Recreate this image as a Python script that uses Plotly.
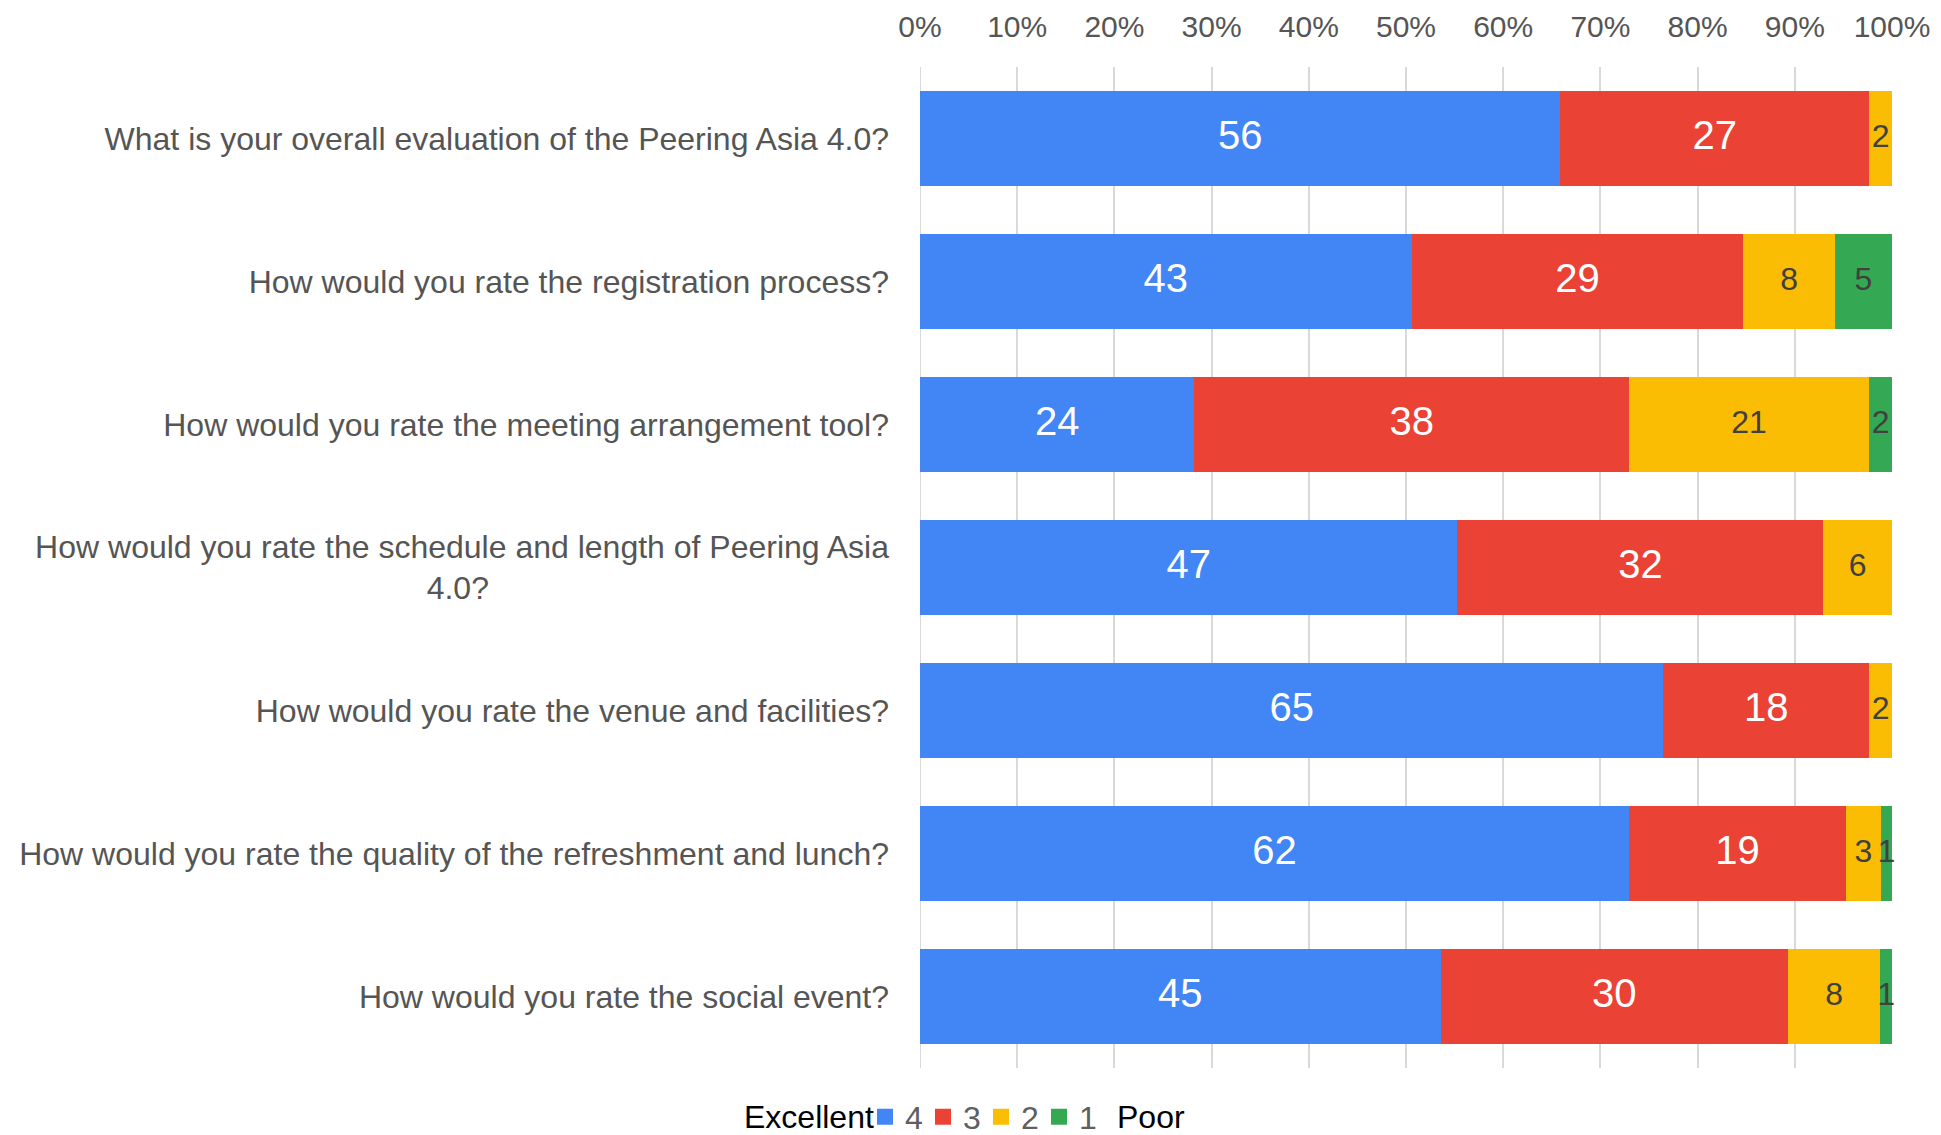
import plotly.graph_objects as go

questions = [
    "What is your overall evaluation of the Peering Asia 4.0?",
    "How would you rate the registration process?",
    "How would you rate the meeting arrangement tool?",
    "How would you rate the schedule and length of Peering Asia<br>4.0?" + "&nbsp;" * 45,
    "How would you rate the venue and facilities?",
    "How would you rate the quality of the refreshment and lunch?",
    "How would you rate the social event?",
]
series_names = ["4", "3", "2", "1"]
rating4 = [56, 43, 24, 47, 65, 62, 45]
rating3 = [27, 29, 38, 32, 18, 19, 30]
rating2 = [2, 8, 21, 6, 2, 3, 8]
rating1 = [0, 5, 2, 0, 0, 1, 1]
colors = ["#4285F4", "#EA4335", "#FBBC04", "#34A853"]
label_colors = ["white", "white", "#404040", "#404040"]
label_sizes = [40, 40, 32, 32]
tick_vals = [0, 10, 20, 30, 40, 50, 60, 70, 80, 90, 100]
tick_text = [f"{v}%" for v in tick_vals]

all_series = [rating4, rating3, rating2, rating1]
FONT = "Liberation Sans, Arial, sans-serif"

fig = go.Figure()
for name, vals, col in zip(series_names, all_series, colors):
    fig.add_trace(go.Bar(
        y=questions, x=vals, name=name, orientation="h",
        marker=dict(color=col, line=dict(width=0)),
        hoverinfo="x+y", showlegend=False,
    ))

# legend entries (square swatches)
for name, col in zip(series_names, colors):
    fig.add_trace(go.Scatter(
        x=[None], y=[None], mode="markers", name=name,
        marker=dict(symbol="square", size=17, color=col),
        showlegend=True,
    ))

# labels at segment midpoints (percent scale)
totals = [sum(s[i] for s in all_series) for i in range(len(questions))]
cum = [0.0] * len(questions)
for vals, lc, ls in zip(all_series, label_colors, label_sizes):
    xs, ys, ts = [], [], []
    for i, v in enumerate(vals):
        pct = 100.0 * v / totals[i]
        if v > 0:
            xs.append(cum[i] + pct / 2)
            ys.append(questions[i])
            ts.append(str(v))
        cum[i] += pct
    fig.add_trace(go.Scatter(
        x=xs, y=ys, text=ts, mode="text", showlegend=False, hoverinfo="skip",
        textfont=dict(color=lc, size=ls, family=FONT), cliponaxis=False,
    ))

fig.update_layout(
    barmode="stack", barnorm="percent", bargap=0.333,
    width=1941, height=1135,
    margin=dict(l=912, r=57, t=59, b=75, autoexpand=False),
    plot_bgcolor="white", paper_bgcolor="white",
    font=dict(family=FONT, size=32, color="#555555"),
    xaxis=dict(
        side="top", range=[0, 100], tickvals=tick_vals, ticktext=tick_text,
        showgrid=True, gridcolor="#d9d9d9", gridwidth=2, automargin=False,
        zeroline=False, showline=False, ticks="", ticklabelstandoff=23,
        tickfont=dict(size=30, color="#555555"), fixedrange=True,
    ),
    yaxis=dict(
        autorange="reversed", showgrid=False, ticks="", ticklabelstandoff=30,
        tickfont=dict(size=32, color="#555555"), showline=False, automargin=False,
    ),
    legend=dict(
        orientation="h", xref="container", yref="container",
        x=857 / 1941, xanchor="left", y=26 / 1135, yanchor="middle",
        font=dict(size=32, color="#5f5f5f"), itemwidth=30, traceorder="normal",
        entrywidth=13, tracegroupgap=0, itemclick=False, itemdoubleclick=False,
    ),
    annotations=[
        dict(text="Excellent", xref="paper", yref="paper", x=-0.0453, xanchor="right",
             y=-0.049, yanchor="middle", showarrow=False,
             font=dict(color="black", size=32, family=FONT)),
        dict(text="Poor", xref="paper", yref="paper", x=0.2006, xanchor="left",
             y=-0.049, yanchor="middle", showarrow=False,
             font=dict(color="black", size=32, family=FONT)),
    ],
)
fig.add_vline(x=0, line=dict(color="#d9d9d9", width=2), layer="below")

fig.write_html("out.html")
